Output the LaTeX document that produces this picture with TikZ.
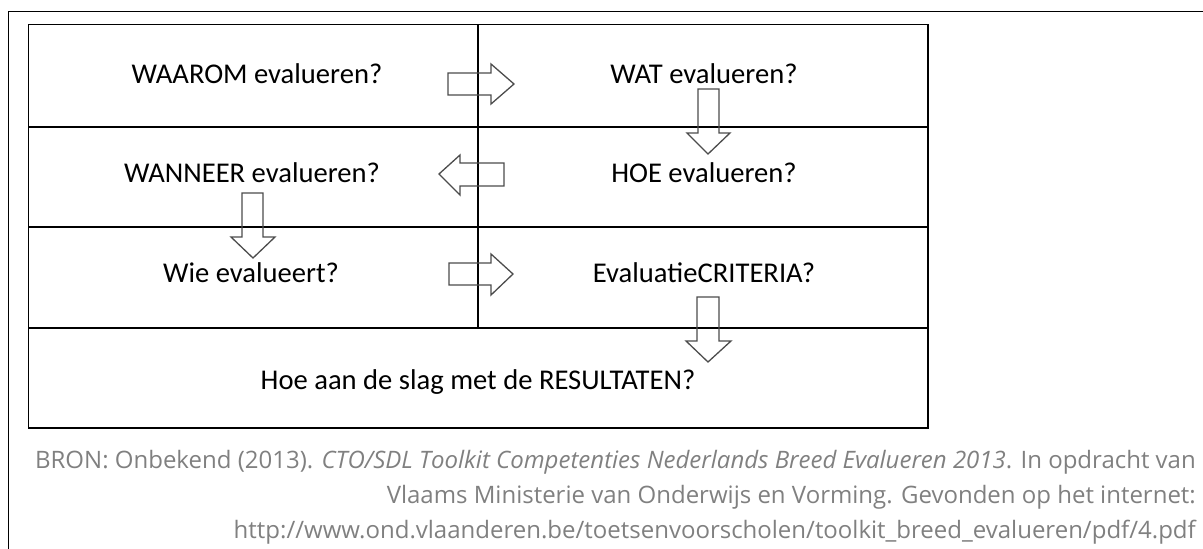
\documentclass[tikz,border=0pt]{standalone}
\usepackage{fontspec}
\setmainfont{Carlito}
\newfontfamily\capfont{Open Sans}
\begin{document}
\begin{tikzpicture}[x=1pt,y=-1pt,
  frame/.style={line width=1.6pt,black},
  grid/.style={line width=1.2pt,black},
  blockarrow/.style={draw=black!70,line width=1.3pt,line join=miter},
  lbl/.style={font=\fontsize{28.6}{34}\selectfont,inner sep=0pt,anchor=base},
  captext/.style={font=\capfont\fontsize{24}{30}\selectfont,text=black!50,inner sep=0pt,anchor=base east}]
\useasboundingbox (0,0) rectangle (1203,549);
% outer frame
\coordinate (ftl) at (8.5,11.5);
\coordinate (ftr) at (1203,11.5);
\coordinate (fbl) at (8.5,549);
\draw[frame] (ftr) -- (ftl) -- (fbl);
% table
\coordinate (tl) at (28.5,24.5);
\coordinate (br) at (928,428);
\draw[grid] (tl) rectangle (br);
\coordinate (r1l) at (28.5,127); \coordinate (r1r) at (928,127);
\coordinate (r2l) at (28.5,227); \coordinate (r2r) at (928,227);
\coordinate (r3l) at (28.5,328); \coordinate (r3r) at (928,328);
\coordinate (vt) at (478,24.5); \coordinate (vb) at (478,328);
\draw[grid] (r1l) -- (r1r) (r2l) -- (r2r) (r3l) -- (r3r) (vt) -- (vb);
% labels
\node[lbl] (waarom) at (257,83) {WAAROM evalueren?};
\node[lbl] (wat) at (704,83) {WAT evalueren?};
\node[lbl] (wanneer) at (252,182) {WANNEER evalueren?};
\node[lbl] (hoe) at (704,182) {HOE evalueren?};
\node[lbl] (wie) at (251,282) {Wie evalueert?};
\node[lbl] (crit) at (704,282) {EvaluatieCRITERIA?};
\node[lbl] (res) at (478,389) {Hoe aan de slag met de RESULTATEN?};
% block arrows
\draw[blockarrow] (448,73) -- (491,73) -- (491,64) -- (514,84) -- (491,104) -- (491,95) -- (448,95) -- cycle;
\draw[blockarrow] (449,263) -- (491,263) -- (491,254) -- (513,274) -- (491,295) -- (491,285) -- (449,285) -- cycle;
\draw[blockarrow] (504,163) -- (460,163) -- (460,155) -- (439,174) -- (460,195) -- (460,186) -- (504,186) -- cycle;
\draw[blockarrow] (698,89) -- (719,89) -- (719,133) -- (730,133) -- (708,154) -- (687,133) -- (698,133) -- cycle;
\draw[blockarrow] (242,193) -- (263,193) -- (263,237) -- (275,237) -- (253,258) -- (231,237) -- (242,237) -- cycle;
\draw[blockarrow] (697,297) -- (719,297) -- (719,341) -- (731,341) -- (708,362) -- (686,341) -- (697,341) -- cycle;
% caption
\node[captext] (c1) at (1196,468) {BRON: Onbekend (2013). \textit{CTO/SDL Toolkit Competenties Nederlands Breed Evalueren 2013}. In opdracht van};
\node[captext] (c2) at (1196,503) {Vlaams Ministerie van Onderwijs en Vorming. Gevonden op het internet:};
\node[captext] (c3) at (1196,538) {http://www.ond.vlaanderen.be/toetsenvoorscholen/toolkit\_breed\_evalueren/pdf/4.pdf};
\end{tikzpicture}
\end{document}
